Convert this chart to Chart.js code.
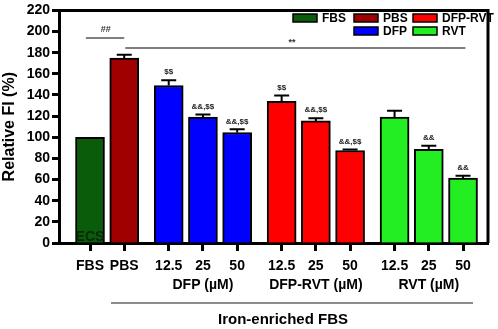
<!DOCTYPE html>
<html>
<head>
<meta charset="utf-8">
<script src="https://cdn.jsdelivr.net/npm/chart.js@4"></script>
<style>
  html, body { margin: 0; padding: 0; background: #fff; }
  #wrap { width: 498px; height: 329px; }
</style>
</head>
<body>
<div id="wrap"><canvas id="fiChart" width="498" height="329"></canvas></div>
<script>
// groups and bar labels
var groups = ['FBS', 'PBS', 'DFP', 'DFP', 'DFP', 'DFP-RVT', 'DFP-RVT', 'DFP-RVT', 'RVT', 'RVT', 'RVT'];
var tickLabels = ['FBS', 'PBS', '12.5', '25', '50', '12.5', '25', '50', '12.5', '25', '50'];
var groupTitles = { 3: 'DFP (\u00b5M)', 6: 'DFP-RVT (\u00b5M)', 9: 'RVT (\u00b5M)' };
// relative FI (%) and SEM
var values = [100, 175, 149, 119, 104.5, 134, 115.5, 87.5, 119, 88.5, 61.5];
var errors = [0, 3, 5, 2.5, 3, 5.5, 2.5, 1, 6, 3.5, 2];
var marks = ['', '', '$$', '&&,$$', '&&,$$', '$$', '&&,$$', '&&,$$', '', '&&', '&&'];
var yTicks = [0, 20, 40, 60, 80, 100, 120, 140, 160, 180, 200, 220];

var colors = { 'FBS': '#0a5c0a', 'PBS': '#a00000', 'DFP': '#0000ff', 'DFP-RVT': '#ff0000', 'RVT': '#22ee22' };
var FONT = "'Liberation Sans', Arial, sans-serif";

// position each bar on a linear axis, with a little extra space between treatment groups
var groupGap = 0.3;
var groupIndex = { 'FBS': 0, 'PBS': 0, 'DFP': 1, 'DFP-RVT': 2, 'RVT': 3 };
var xPos = groups.map(function (g, i) { return 1 + i + groupIndex[g] * groupGap; });

var points = values.map(function (v, i) { return { x: xPos[i], y: v }; });

var extras = {
    id: 'extras',
    afterDatasetsDraw: function (chart) {
        var ctx = chart.ctx;
        var xs = chart.scales.x, ys = chart.scales.y;
        var area = chart.chartArea;
        ctx.save();

        // error bars (upper only) and significance marks
        ctx.strokeStyle = '#000';
        ctx.lineWidth = 2;
        ctx.fillStyle = '#222';
        ctx.font = 'bold 8px ' + FONT;
        ctx.textAlign = 'center';
        ctx.textBaseline = 'bottom';
        values.forEach(function (v, i) {
            var px = xs.getPixelForValue(xPos[i]);
            var top = ys.getPixelForValue(v + errors[i]);
            if (errors[i] > 0) {
                ctx.beginPath();
                ctx.moveTo(px, ys.getPixelForValue(v));
                ctx.lineTo(px, top);
                ctx.moveTo(px - 7.5, top);
                ctx.lineTo(px + 7.5, top);
                ctx.stroke();
            }
            if (marks[i]) ctx.fillText(marks[i], px, top - 4);
        });

        // "ECS" text inside the first bar
        ctx.fillStyle = '#082808';
        ctx.font = 'bold 14px ' + FONT;
        ctx.textBaseline = 'alphabetic';
        ctx.fillText('ECS', xs.getPixelForValue(xPos[0]), area.bottom - 2);

        // comparison lines
        ctx.strokeStyle = '#555';
        ctx.lineWidth = 1.5;
        var yShort = ys.getPixelForValue(194);
        var yLong = ys.getPixelForValue(184.5);
        ctx.beginPath();
        ctx.moveTo(xs.getPixelForValue(0.88), yShort);
        ctx.lineTo(xs.getPixelForValue(xPos[1]), yShort);
        ctx.moveTo(xs.getPixelForValue(xPos[1]) + 1, yLong);
        ctx.lineTo(xs.getPixelForValue(xPos[10] + 0.07), yLong);
        ctx.stroke();
        ctx.fillStyle = '#333';
        ctx.font = 'bold 9px ' + FONT;
        ctx.textBaseline = 'bottom';
        ctx.fillText('##', xs.getPixelForValue(1.46), yShort - 4);
        ctx.fillText('**', xs.getPixelForValue(6.9), yLong - 1);

        // top and right frame
        ctx.strokeStyle = '#000';
        ctx.lineWidth = 3;
        ctx.beginPath();
        ctx.moveTo(area.left, area.top);
        ctx.lineTo(area.right, area.top);
        ctx.lineTo(area.right, area.bottom);
        ctx.stroke();

        // legend
        var legend = [
            { label: 'FBS', x: 293, row: 0 },
            { label: 'PBS', x: 354, row: 0 },
            { label: 'DFP-RVT', x: 413, row: 0 },
            { label: 'DFP', x: 354, row: 1 },
            { label: 'RVT', x: 413, row: 1 }
        ];
        ctx.font = 'bold 12px ' + FONT;
        ctx.textAlign = 'left';
        ctx.textBaseline = 'middle';
        ctx.lineWidth = 1.5;
        legend.forEach(function (item) {
            var cy = 18 + item.row * 13;
            ctx.fillStyle = colors[item.label];
            ctx.fillRect(item.x, cy - 4, 24, 8);
            ctx.strokeStyle = '#000';
            ctx.strokeRect(item.x, cy - 4, 24, 8);
            ctx.fillStyle = '#000';
            ctx.fillText(item.label, item.x + 29, cy + 1);
        });

        // bottom bracket and label
        ctx.strokeStyle = '#666';
        ctx.lineWidth = 1.5;
        ctx.beginPath();
        ctx.moveTo(111, 303);
        ctx.lineTo(473, 303);
        ctx.stroke();
        ctx.fillStyle = '#000';
        ctx.font = 'bold 15px ' + FONT;
        ctx.textAlign = 'center';
        ctx.fillText('Iron-enriched FBS', 283, 320);

        ctx.restore();
    }
};

var ctx = document.getElementById('fiChart').getContext('2d');
new Chart(ctx, {
    type: 'bar',
    data: {
        datasets: [{
            data: points,
            backgroundColor: groups.map(function (g) { return colors[g]; }),
            borderColor: '#000',
            borderWidth: 2,
            barThickness: 29
        }]
    },
    options: {
        responsive: false,
        animation: false,
        layout: { padding: { top: 7, right: 10, left: 0, bottom: 0 } },
        plugins: {
            legend: { display: false },
            tooltip: { enabled: false }
        },
        scales: {
            x: {
                type: 'linear',
                offset: false,
                min: 0.094,
                max: 12.63,
                afterFit: function (scale) { scale.height = 86; },
                afterBuildTicks: function (scale) {
                    scale.ticks = xPos.map(function (v) { return { value: v }; });
                },
                ticks: {
                    autoSkip: false,
                    maxRotation: 0,
                    padding: 6,
                    color: '#000',
                    font: { family: FONT, size: 14, weight: 'bold', lineHeight: 1.35 },
                    callback: function (value, index) {
                        var t = tickLabels[index];
                        return groupTitles[index] ? [t, groupTitles[index]] : t;
                    }
                },
                grid: { offset: false, drawOnChartArea: false, drawTicks: true, tickLength: 8, tickWidth: 3, tickColor: '#000' },
                border: { display: true, width: 3, color: '#000' }
            },
            y: {
                min: 0,
                max: 220,
                afterFit: function (scale) { scale.width = 59; },
                afterBuildTicks: function (scale) {
                    scale.ticks = yTicks.map(function (v) { return { value: v }; });
                },
                ticks: {
                    padding: 2,
                    color: '#000',
                    font: { family: FONT, size: 14, weight: 'bold' }
                },
                title: {
                    display: true,
                    text: 'Relative FI (%)',
                    color: '#000',
                    padding: { top: 0, bottom: 0 },
                    font: { family: FONT, size: 16, weight: 'bold' }
                },
                grid: { drawOnChartArea: false, drawTicks: true, tickLength: 7, tickWidth: 3, tickColor: '#000' },
                border: { display: true, width: 3, color: '#000' }
            }
        }
    },
    plugins: [extras]
});
</script>
</body>
</html>
